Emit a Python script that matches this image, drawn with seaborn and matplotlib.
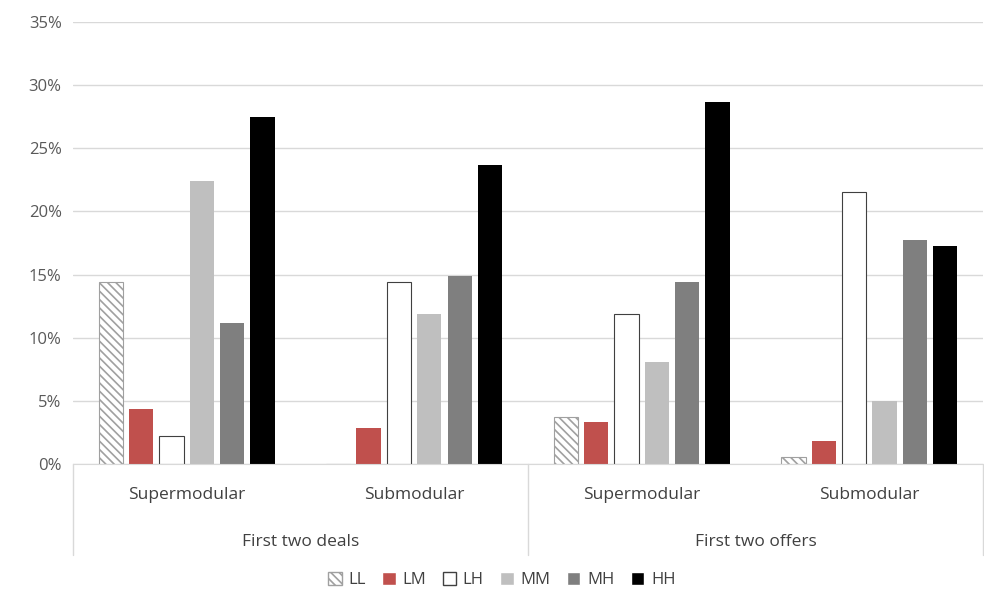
import matplotlib
matplotlib.use("Agg")
import matplotlib.pyplot as plt
import seaborn as sns
import pandas as pd
from matplotlib.patches import Patch

sns.set_style("white")
plt.rcParams['font.family'] = ['Open Sans', 'DejaVu Sans']
plt.rcParams['hatch.linewidth'] = 1.2

categories = ["Supermodular", "Submodular", "Supermodular ", "Submodular "]
groups = ["First two deals", "First two offers"]
series = ["LL", "LM", "LH", "MM", "MH", "HH"]
values = {
    "LL": [14.4, 0.0, 3.7, 0.55],
    "LM": [4.4, 2.85, 3.3, 1.8],
    "LH": [2.2, 14.4, 11.9, 21.5],
    "MM": [22.4, 11.9, 8.1, 5.0],
    "MH": [11.2, 14.9, 14.4, 17.7],
    "HH": [27.5, 23.7, 28.7, 17.3],
}
colors = {"LL": "white", "LM": "#c0504d", "LH": "white", "MM": "#bfbfbf", "MH": "#7f7f7f", "HH": "#000000"}

rows = [(c, s, values[s][i]) for s in series for i, c in enumerate(categories)]
df = pd.DataFrame(rows, columns=["cat", "series", "val"])

fig = plt.figure(figsize=(9.84, 5.92), dpi=100)
ax = fig.add_axes([0.074, 0.216, 0.925, 0.747])
sns.barplot(data=df, x="cat", y="val", hue="series", order=categories, hue_order=series,
            palette=colors, width=0.8, ax=ax, legend=False, saturation=1)

for j, s in enumerate(series):
    for p in ax.containers[j]:
        w = p.get_width(); nw = w * 0.8
        p.set_x(p.get_x() + (w - nw) / 2); p.set_width(nw)
        p.set_linewidth(0)
        if s == "LH":
            p.set_edgecolor("#404040"); p.set_linewidth(0.8)
        if s == "LL":
            p.set_hatch("\\\\\\\\"); p.set_edgecolor("#a0a0a0"); p.set_linewidth(0.8)

ax.set_ylim(0, 35)
ax.set_xlim(-0.5, 3.5)
ax.set_yticks(range(0, 36, 5))
ax.set_yticklabels([f"{v}%" for v in range(0, 36, 5)], color="#595959", fontsize=12)
ax.yaxis.grid(True, color="#d9d9d9", linewidth=1)
ax.set_axisbelow(True)
for sp in ["top", "right", "left"]:
    ax.spines[sp].set_visible(False)
ax.spines["bottom"].set_color("#d9d9d9")
ax.set_xticks([])
ax.set_xlabel(""); ax.set_ylabel("")
ax.tick_params(axis="y", length=0, pad=8)

tr = ax.get_xaxis_transform()
for i, c in enumerate(categories):
    ax.text(i, -0.07, c.strip(), transform=tr, ha="center", va="center", fontsize=12.5, color="#404040")
for g, gx in enumerate([0.5, 2.5]):
    ax.text(gx, -0.175, groups[g], transform=tr, ha="center", va="center", fontsize=12.5, color="#404040")
for xv in [-0.5, 1.5, 3.5]:
    ax.plot([xv, xv], [0, -0.205], transform=tr, color="#d9d9d9", lw=1, clip_on=False)

handles = []
for s in series:
    if s == "LL":
        handles.append(Patch(facecolor="white", edgecolor="#a0a0a0", hatch="\\\\\\\\", label=s))
    elif s == "LH":
        handles.append(Patch(facecolor="white", edgecolor="#404040", label=s))
    else:
        handles.append(Patch(facecolor=colors[s], label=s))
fig.legend(handles=handles, loc="center", bbox_to_anchor=(0.51, 0.02), ncol=6, frameon=False,
           fontsize=12, handlelength=0.8, handleheight=0.8, columnspacing=1.0, handletextpad=0.4,
           labelcolor="#404040")
fig.savefig("out.png", dpi=100)
